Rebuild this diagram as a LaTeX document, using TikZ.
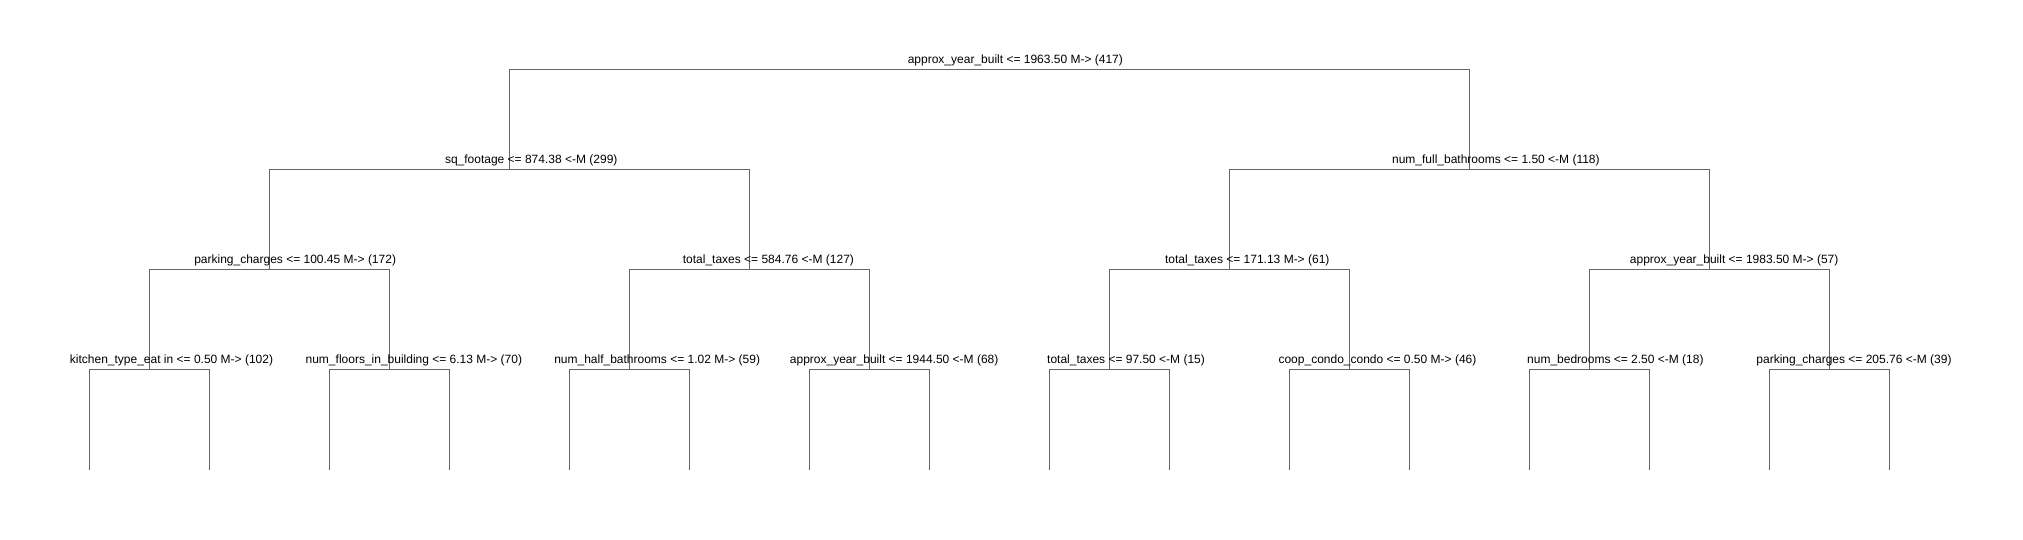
\documentclass[tikz,border=0pt]{standalone}
\usepackage{fontspec}
\setmainfont{Liberation Sans}
\tikzset{
	splitnode/.style = {
		coordinate
	},
	splitlabel/.style = {
		anchor=base west,
		inner sep=0pt,
		text=black,
		font=\fontsize{12}{14}\selectfont
	},
}
\begin{document}
\begin{tikzpicture}[x=1pt, y=1pt, black!60, line width=1pt, level distance=100pt, level/.style={sibling distance={1920pt/(2^#1)}}, edge from parent path={(\tikzparentnode) -| (\tikzchildnode)}]
\useasboundingbox (0,0) rectangle (2023,540);
\node [splitnode] (root) at (989,470) {}
child foreach \a in {1,2} {
	node [splitnode] {}
	child foreach \b in {1,2} {
		node [splitnode] {}
		child foreach \c in {1,2} {
			node [splitnode] {}
			child foreach \d in {1,2} {
				node [splitnode] {}
			}
		}
	}
};
% split labels, shifted left by their length
\foreach \nd/\len/\txt in {
	root/38/approx\_year\_built <= 1963.50 M-> (417),
	root-1/30/sq\_footage <= 874.38 <-M (299),
	root-2/36/num\_full\_bathrooms <= 1.50 <-M (118),
	root-1-1/35/parking\_charges <= 100.45 M-> (172),
	root-1-2/31/total\_taxes <= 584.76 <-M (127),
	root-2-1/30/total\_taxes <= 171.13 M-> (61),
	root-2-2/37/approx\_year\_built <= 1983.50 M-> (57),
	root-1-1-1/37/kitchen\_type\_eat in <= 0.50 M-> (102),
	root-1-1-2/39/num\_floors\_in\_building <= 6.13 M-> (70),
	root-1-2-1/35/num\_half\_bathrooms <= 1.02 M-> (59),
	root-1-2-2/37/approx\_year\_built <= 1944.50 <-M (68),
	root-2-1-1/29/total\_taxes <= 97.50 <-M (15),
	root-2-1-2/33/coop\_condo\_condo <= 0.50 M-> (46),
	root-2-2-1/29/num\_bedrooms <= 2.50 <-M (18),
	root-2-2-2/34/parking\_charges <= 205.76 <-M (39)}
	\node [splitlabel] (\nd-label) at ([xshift={-2.15pt*\len}, yshift=6.5pt]\nd) {\txt};
\end{tikzpicture}
\end{document}
